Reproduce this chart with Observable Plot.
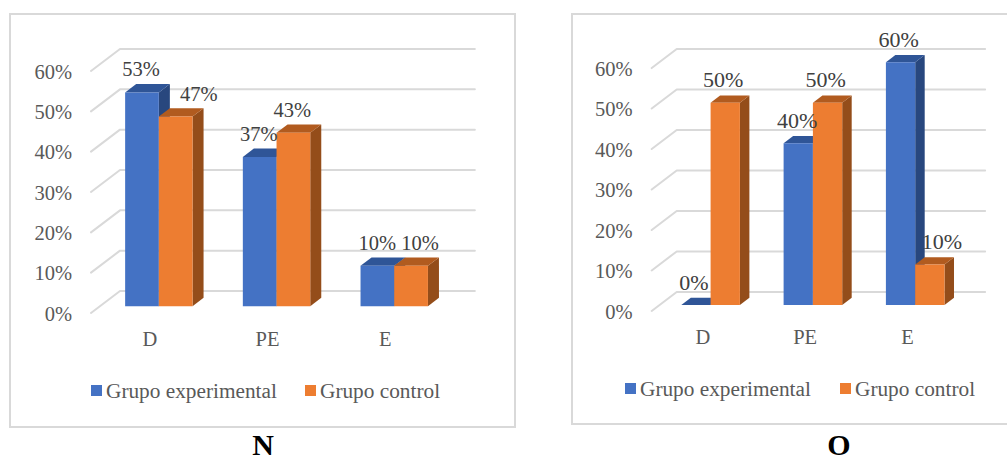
<!DOCTYPE html>
<html>
<head>
<meta charset="utf-8">
<script src="https://cdn.jsdelivr.net/npm/d3@7"></script>
<script src="https://cdn.jsdelivr.net/npm/@observablehq/plot@0.6"></script>
<style>
  html,body{margin:0;padding:0;background:#fff;overflow:hidden}
  #page{position:relative;width:1007px;height:459px;overflow:hidden;font-family:"Liberation Serif",serif}
  .frame{position:absolute;box-sizing:border-box;border:2px solid #d9d9d9}
  .chart{position:absolute;left:0;top:0}
  .chart svg{display:block;background:transparent}
  .legend{position:absolute;color:#595959;font-size:21.3px;line-height:24px;white-space:nowrap}
  .legend i{position:absolute;top:6px;width:11px;height:11px}
  .legend span{position:absolute;top:0}
  .letter{position:absolute;color:#000;font-weight:bold;font-size:30px;line-height:20px;transform:translateX(-50%)}
</style>
</head>
<body>
<div id="page"></div>
<script>
const categories = ["D", "PE", "E"];
const seriesNames = ["Grupo experimental", "Grupo control"];
const yTicks = [0, 10, 20, 30, 40, 50, 60];
const nExperimental = [53, 37, 10];
const nControl = [47, 43, 10];
const oExperimental = [0, 40, 60];
const oControl = [50, 50, 10];

// Look only: label nudges and the faces' colours
const nNudge = [[-1, -1, 0], [23, -1, 9]];
const oNudge = [[-2, -1, -2], [-2, -2, 12]];
const faces = [
  {front: "#4472c4", top: "#2f5597", side: "#28477e"},
  {front: "#ed7d31", top: "#b15b1f", side: "#944d1a"}
];

function panel(p) {
  const xMax = 3 + p.depthX, yMax = 60 + p.depthY;
  // oblique depth expressed in data units, bars sit in the middle of the floor
  const near = 0.31, far = 0.69, groupShare = 0.5727;
  const polys = [], labels = [];
  categories.forEach((cat, i) => {
    p.series.forEach((vals, s) => {
      const v = vals[i];
      const w = groupShare / 2;
      const x0 = i + 0.5 - w + s * w + near * p.depthX;
      const x1 = x0 + w;
      const y0 = near * p.depthY;
      const dx = (far - near) * p.depthX, dy = (far - near) * p.depthY;
      const top = y0 + v;
      const add = (id, c, pts) => pts.forEach(([x, y]) => polys.push({id: `${i}-${s}-${id}`, c, x, y}));
      add("side", faces[s].side, [[x1, y0], [x1 + dx, y0 + dy], [x1 + dx, top + dy], [x1, top]]);
      add("top", faces[s].top, [[x0, top], [x1, top], [x1 + dx, top + dy], [x0 + dx, top + dy]]);
      add("front", faces[s].front, [[x0, y0], [x1, y0], [x1, top], [x0, top]]);
      labels.push({x: (x0 + x1) / 2, y: top, t: v + "%", dx: p.nudge[s][i]});
    });
  });
  const grid = yTicks.flatMap(v => [
    {v, x: 0, y: v},
    {v, x: p.depthX, y: v + p.depthY},
    {v, x: xMax + 0.015, y: v + p.depthY}
  ]);
  return Plot.plot({
    width: p.width, height: p.height,
    marginLeft: p.left, marginRight: p.width - p.right,
    marginTop: p.back60, marginBottom: p.height - p.base,
    x: {domain: [0, xMax], axis: null},
    y: {domain: [0, yMax], axis: null},
    color: {type: "identity"},
    style: {fontFamily: '"Liberation Serif", serif', background: "transparent"},
    marks: [
      Plot.line(grid, {x: "x", y: "y", z: "v", stroke: "#d9d9d9", strokeWidth: 2}),
      Plot.axisY({ticks: yTicks, anchor: "left", tickSize: 0, tickPadding: 19, label: null,
        tickFormat: d => d + "%", fontSize: 20.5, fill: "#595959", dy: 1}),
      Plot.text(categories, {x: (d, i) => i + 0.5, y: () => 0, text: d => d, dy: 26, fontSize: 20.5, fill: "#595959"}),
      Plot.line(polys, {x: "x", y: "y", z: "id", fill: "c", stroke: "none"}),
      ...labels.map(l =>
        Plot.text([l], {x: "x", y: "y", text: "t", dy: -22.5, dx: l.dx, fontSize: p.labelSize, fill: "#404040"})
      )
    ]
  });
}

const page = document.getElementById("page");
function addPanel(p) {
  const f = document.createElement("div");
  f.className = "frame";
  Object.assign(f.style, {left: p.frame[0] + "px", top: p.frame[1] + "px", width: p.frame[2] + "px", height: p.frame[3] + "px"});
  page.appendChild(f);

  const c = document.createElement("div");
  c.className = "chart";
  c.appendChild(panel(p));
  page.appendChild(c);

  const lg = document.createElement("div");
  lg.className = "legend";
  lg.style.left = "0px";
  lg.style.top = (p.legendY - 12) + "px";
  seriesNames.forEach((name, s) => {
    const sw = document.createElement("i");
    sw.style.left = p.legendX[s] + "px";
    sw.style.background = faces[s].front;
    const tx = document.createElement("span");
    tx.style.left = (p.legendX[s] + 15) + "px";
    tx.textContent = name;
    lg.append(sw, tx);
  });
  page.appendChild(lg);

  const l = document.createElement("div");
  l.className = "letter";
  l.textContent = p.letter;
  l.style.left = p.letterX + "px";
  l.style.top = p.letterTop + "px";
  page.appendChild(l);
}

addPanel({
  letter: "N", letterX: 263, letterTop: 434.5,
  frame: [9, 13, 507, 415],
  width: 515, height: 430,
  left: 90.5, right: 90.5 + 3 * 117.7 + 29, base: 312.5, back60: 48.5,
  depthX: 29 / 117.7, depthY: 22 / 4.033,
  series: [nExperimental, nControl], nudge: nNudge, labelSize: 20.5,
  legendY: 391, legendX: [91, 305]
});
addPanel({
  letter: "O", letterX: 839, letterTop: 434.5,
  frame: [571, 13, 445, 412],
  width: 1007, height: 430,
  left: 651.2, right: 651.2 + 3 * 102.3 + 25, base: 310.5, back60: 48.5,
  depthX: 25 / 102.3, depthY: 19 / 4.033,
  series: [oExperimental, oControl], nudge: oNudge, labelSize: 22,
  legendY: 389, legendX: [625, 840]
});
</script>
</body>
</html>
